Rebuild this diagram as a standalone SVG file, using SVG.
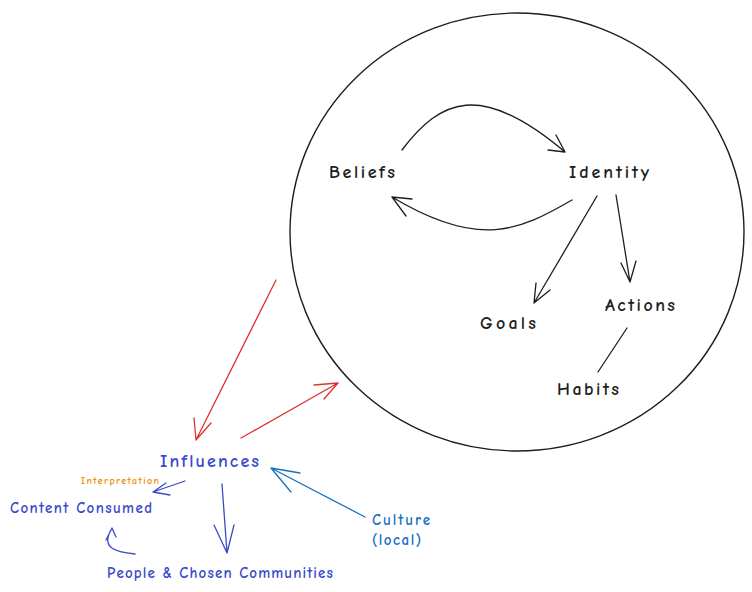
<svg xmlns="http://www.w3.org/2000/svg" width="752" height="592" viewBox="0 0 752 592">
<style>
text{font-family:"Comic Neue","Liberation Sans",sans-serif;font-size:18px;font-weight:bold}
.k{fill:#1e1e1e}.b{fill:#3b4bc8}.c{fill:#1971c2}
.l{fill:none;stroke-width:1.3;stroke-linecap:round;stroke-linejoin:round}
.lk{stroke:#1e1e1e}.lr{stroke:#e03131}.lb{stroke:#3b4bc8}.lc{stroke:#1971c2}
</style>
<rect width="752" height="592" fill="#fff"/>
<g id="circle"><ellipse cx="517" cy="232" rx="227" ry="219" fill="none" stroke="#1e1e1e" stroke-width="1.4"/></g>
<g id="beliefs"><text class="k" x="329" y="178" textLength="66" lengthAdjust="spacing">Beliefs</text></g>
<g id="identity"><text class="k" x="569" y="178" textLength="80" lengthAdjust="spacing">Identity</text></g>
<g id="goals"><text class="k" x="480" y="329" textLength="56" lengthAdjust="spacing">Goals</text></g>
<g id="actions"><text class="k" x="605" y="311" textLength="70" lengthAdjust="spacing">Actions</text></g>
<g id="habits"><text class="k" x="557" y="395" textLength="62" lengthAdjust="spacing">Habits</text></g>
<g id="influences"><text class="b" x="160" y="467" textLength="99" lengthAdjust="spacing">Influences</text></g>
<g id="interpretation"><text x="81" y="484" style="font-size:10px;fill:#f08c00" textLength="78" lengthAdjust="spacing">Interpretation</text></g>
<g id="content"><text class="b" x="10" y="513" style="font-size:15px" textLength="142" lengthAdjust="spacing">Content Consumed</text></g>
<g id="people"><text class="b" x="107" y="578" style="font-size:15px" textLength="226" lengthAdjust="spacing">People &amp; Chosen Communities</text></g>
<g id="culture"><text class="c" x="372" y="525" style="font-size:15px" textLength="58" lengthAdjust="spacing">Culture</text><text class="c" x="372" y="545" style="font-size:15px" textLength="49" lengthAdjust="spacing">(local)</text></g>
<g id="connectors">
<path class="l lk" d="M402 150 C440 100 480 80 565 152 M548 150 L565 152 L556 135"/>
<path class="l lk" d="M572 200 C520 230 480 250 392 197 M406 216 L392 197 L412 199"/>
<path class="l lk" d="M597 196 L534 303 M536 283 L534 303 L550 290"/>
<path class="l lk" d="M616 195 L630 282 M621 263 L630 282 L636 261"/>
<path class="l lk" d="M627 328 L598 372"/>
<path class="l lr" d="M276 280 L196 440 M194 418 L196 440 L211 423"/>
<path class="l lr" d="M241 438 L338 383 M314 385 L338 383 L324 399"/>
<path class="l lb" d="M185 481 L153 492 M170 495 L153 492 L166 483"/>
<path class="l lb" d="M222 484 L227 553 M214 525 L227 553 L234 525"/>
<path class="l lb" d="M135 554 C115 552 100 548 112 528 M106 540 L112 528 L116 537"/>
<path class="l lc" d="M365 517 L271 468 M300 473 L271 468 L291 492"/>
</g>
</svg>
